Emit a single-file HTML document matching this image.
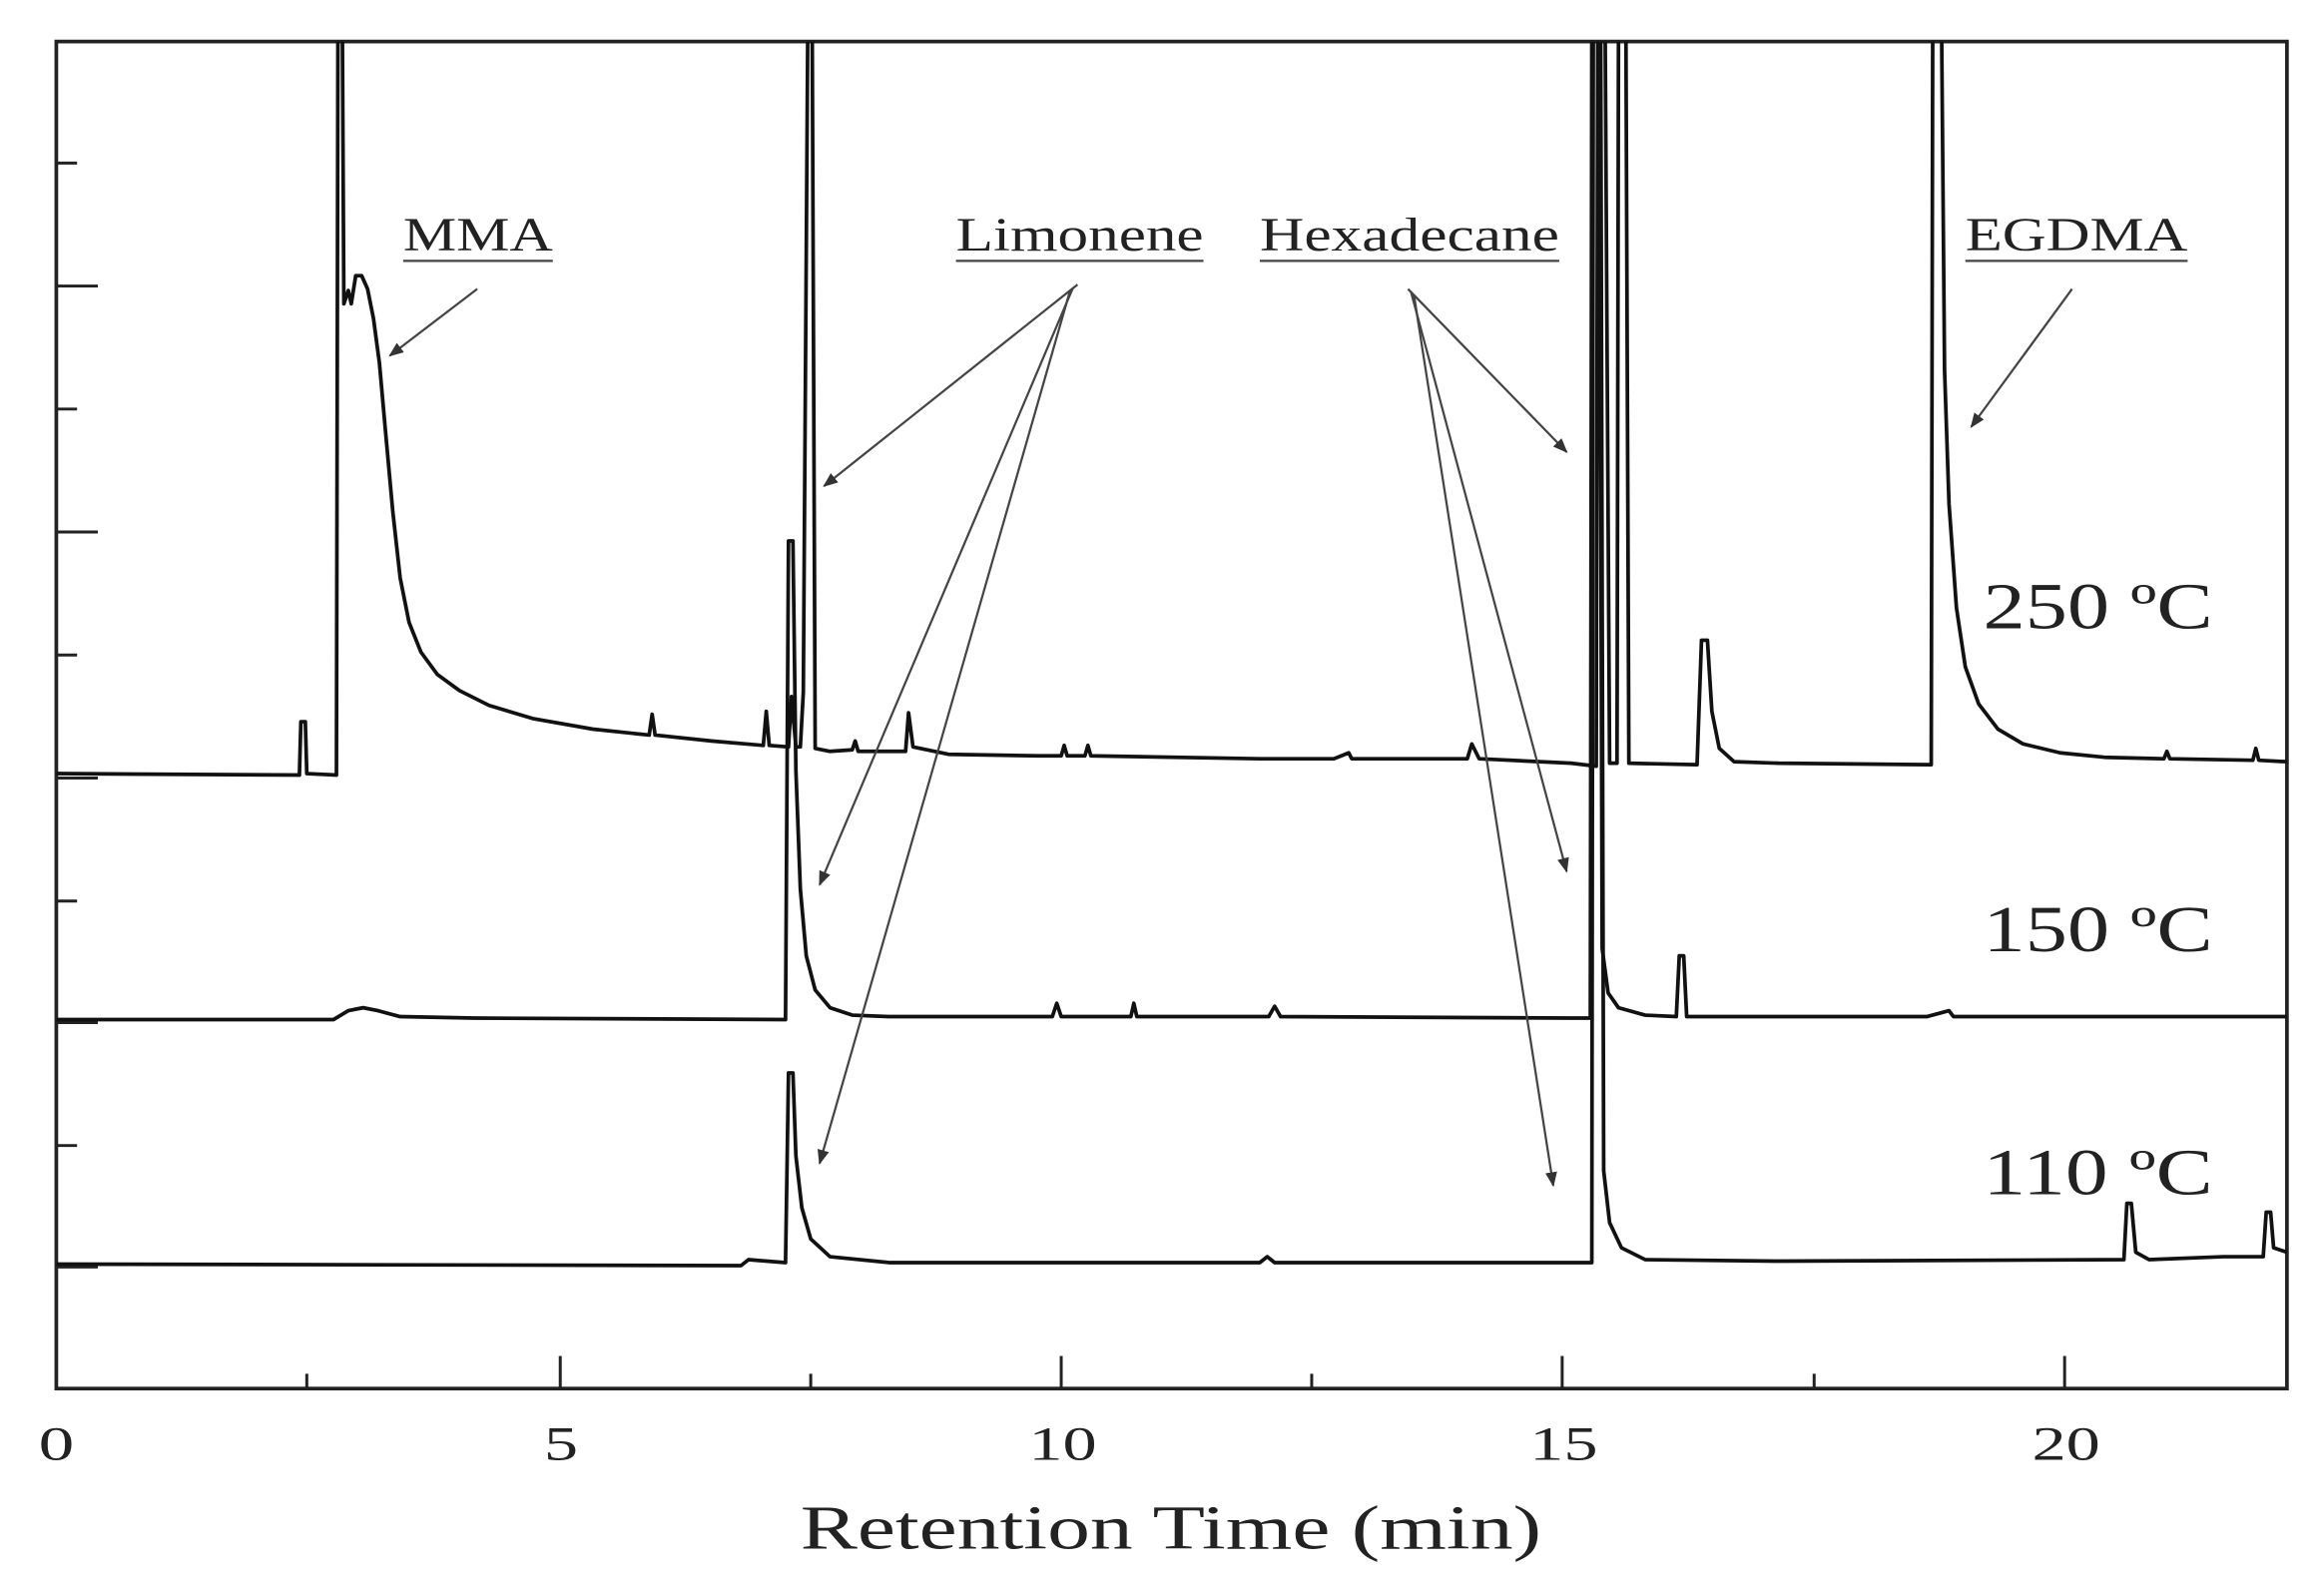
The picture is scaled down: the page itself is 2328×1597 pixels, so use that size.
<!DOCTYPE html>
<html><head><meta charset="utf-8"><style>
html,body{margin:0;padding:0;background:#fff;}
svg{display:block;}
text{font-family:"Liberation Serif",serif;fill:#222;}
</style></head><body>
<svg width="2328" height="1597" viewBox="0 0 1568 1075.6" xmlns="http://www.w3.org/2000/svg">
<defs>
<marker id="ah" markerWidth="10" markerHeight="8" refX="9" refY="4" orient="auto" markerUnits="userSpaceOnUse">
<path d="M0,0 L10,4 L0,8 Z" fill="#333"/></marker>
<clipPath id="pc"><rect x="38" y="28" width="1505" height="909"/></clipPath>
</defs>
<rect width="1568" height="1076" fill="#fff"/>
<rect x="38" y="28" width="1505" height="909" fill="none" stroke="#222" stroke-width="2.5"/>
<g stroke="#222" stroke-width="2">
<line x1="38" y1="110" x2="52" y2="110"/><line x1="38" y1="193" x2="66" y2="193"/>
<line x1="38" y1="276" x2="52" y2="276"/><line x1="38" y1="359" x2="66" y2="359"/>
<line x1="38" y1="442" x2="52" y2="442"/><line x1="38" y1="525" x2="66" y2="525"/>
<line x1="38" y1="608" x2="52" y2="608"/><line x1="38" y1="690" x2="66" y2="690"/>
<line x1="38" y1="773" x2="52" y2="773"/><line x1="38" y1="855" x2="66" y2="855"/>
<line x1="207" y1="937" x2="207" y2="927"/><line x1="378" y1="937" x2="378" y2="915"/>
<line x1="547" y1="937" x2="547" y2="927"/><line x1="716" y1="937" x2="716" y2="915"/>
<line x1="885" y1="937" x2="885" y2="927"/><line x1="1054" y1="937" x2="1054" y2="915"/>
<line x1="1224" y1="937" x2="1224" y2="927"/><line x1="1393" y1="937" x2="1393" y2="915"/>
</g>
<g font-size="32">
<text x="26" y="985" textLength="24" lengthAdjust="spacingAndGlyphs">0</text>
<text x="367" y="985" textLength="23" lengthAdjust="spacingAndGlyphs">5</text>
<text x="694" y="985" textLength="46" lengthAdjust="spacingAndGlyphs">10</text>
<text x="1032" y="985" textLength="46" lengthAdjust="spacingAndGlyphs">15</text>
<text x="1371" y="985" textLength="46" lengthAdjust="spacingAndGlyphs">20</text>
</g>
<text x="540" y="1045" font-size="42" textLength="500" lengthAdjust="spacingAndGlyphs">Retention Time (min)</text>
<g clip-path="url(#pc)" fill="none" stroke="#111" stroke-linejoin="round">
<path stroke-width="2.5" d="M38,522 L202,523 L203,487 L206,487 L207,522 L227,523 L228,20 L231,20 L232,205 L235,196 L237,205 L240,186 L244,186 L248,195 L252,215 L256,245 L260,290 L265,345 L270,390 L276,420 L284,440 L295,455 L310,466 L330,476 L360,485 L400,492 L438,496 L440,482 L442,496 L480,500 L515,503 L517,480 L519,503 L532,504 L534,470 L537,504 L540,504 L542,467 L545,20 L548,20 L550,505 L560,507 L575,506 L577,500 L579,507 L611,507 L613,481 L616,504 L640,509 L700,510 L716,510 L718,503 L720,510 L732,510 L734,503 L736,510 L850,512 L900,512 L910,508 L912,512 L990,512 L993,502 L998,512 L1060,515 L1077,517 L1078,20 L1083,20 L1086,515 L1091,515 L1092,20 L1097,20 L1099,515 L1145,516 L1148,432 L1152,432 L1155,480 L1160,505 L1170,514 L1200,515 L1303,516 L1304,20 L1310,20 L1312,250 L1315,340 L1320,410 L1326,450 L1335,475 L1348,492 L1365,502 L1390,508 L1420,511 L1460,512 L1462,507 L1464,512 L1520,513 L1522,505 L1524,513 L1543,514"/>
<path stroke-width="2.5" d="M38,688 L225,688 L235,682 L245,680 L255,682 L270,686 L320,687 L530,688 L532,365 L535,365 L537,520 L540,600 L544,645 L550,668 L560,680 L575,685 L600,686 L710,686 L713,677 L716,686 L763,686 L765,677 L767,686 L856,686 L860,679 L864,686 L1060,687 L1073,687 L1074,20 L1079,20 L1081,640 L1085,670 L1092,680 L1110,685 L1131,686 L1133,645 L1136,645 L1138,686 L1300,686 L1315,682 L1318,686 L1543,686"/>
<path stroke-width="2.5" d="M38,853 L500,854 L505,850 L530,852 L532,724 L535,724 L537,780 L541,815 L547,836 L560,848 L600,852 L850,852 L855,848 L860,852 L1070,852 L1074,852 L1075,20 L1080,20 L1082,790 L1086,825 L1094,842 L1110,850 L1200,851 L1433,850 L1435,812 L1438,812 L1441,845 L1450,850 L1500,848 L1527,848 L1529,818 L1532,818 L1534,842 L1543,845"/>
</g>
<g font-size="32">
<text x="272" y="169" textLength="101" lengthAdjust="spacingAndGlyphs">MMA</text>
<text x="645" y="169" textLength="167" lengthAdjust="spacingAndGlyphs">Limonene</text>
<text x="850" y="169" textLength="202" lengthAdjust="spacingAndGlyphs">Hexadecane</text>
<text x="1326" y="169" textLength="150" lengthAdjust="spacingAndGlyphs">EGDMA</text>
</g>
<g stroke="#444" stroke-width="1.5">
<line x1="272" y1="176" x2="373" y2="176"/>
<line x1="645" y1="176" x2="812" y2="176"/>
<line x1="850" y1="176" x2="1052" y2="176"/>
<line x1="1326" y1="176" x2="1476" y2="176"/>
</g>
<g stroke="#444" stroke-width="1.5" marker-end="url(#ah)" fill="none">
<line x1="322" y1="195" x2="263" y2="240"/>
<line x1="727" y1="192" x2="556" y2="328"/>
<line x1="724" y1="194" x2="553" y2="597"/>
<line x1="722" y1="196" x2="553" y2="785"/>
<line x1="950" y1="195" x2="1057" y2="305"/>
<line x1="952" y1="197" x2="1057" y2="588"/>
<line x1="954" y1="199" x2="1048" y2="800"/>
<line x1="1398" y1="195" x2="1330" y2="288"/>
</g>
<g font-size="44">
<text x="1338" y="424" textLength="155" lengthAdjust="spacingAndGlyphs">250 ºC</text>
<text x="1338" y="642" textLength="155" lengthAdjust="spacingAndGlyphs">150 ºC</text>
<text x="1338" y="806" textLength="155" lengthAdjust="spacingAndGlyphs">110 ºC</text>
</g>
</svg>
</body></html>
